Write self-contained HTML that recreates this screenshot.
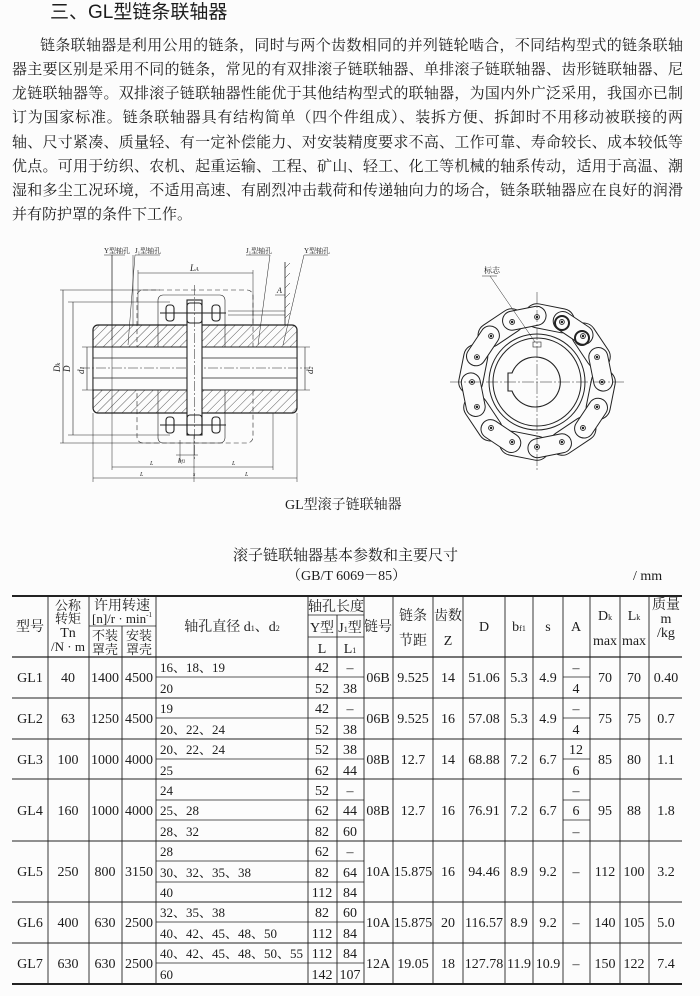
<!DOCTYPE html>
<html><head><meta charset="utf-8">
<style>
html,body{margin:0;padding:0;background:#fcfcfc;}
body{width:700px;height:996px;position:relative;overflow:hidden;color:#1c1c1c;font-family:"Liberation Serif","Noto Serif CJK SC",serif;}
.title{position:absolute;left:50px;top:0px;font-family:"Liberation Sans","Noto Sans CJK SC",sans-serif;font-size:19px;line-height:26px;}
.ln{position:absolute;left:12px;width:671px;font-size:15px;line-height:20px;text-align:justify;text-align-last:justify;}
.ln.first{left:40px;width:643px;}
.ln.last{text-align-last:left;}
svg text{font-family:"Liberation Serif","Noto Serif CJK SC",serif;fill:#1c1c1c;}
</style></head><body>
<div class="title">三、GL型链条联轴器</div>
<div class="ln first" style="top:36px">链条联轴器是利用公用的链条，同时与两个齿数相同的并列链轮啮合，不同结构型式的链条联轴</div>
<div class="ln" style="top:60px">器主要区别是采用不同的链条，常见的有双排滚子链联轴器、单排滚子链联轴器、齿形链联轴器、尼</div>
<div class="ln" style="top:84px">龙链联轴器等。双排滚子链联轴器性能优于其他结构型式的联轴器，为国内外广泛采用，我国亦已制</div>
<div class="ln" style="top:108px">订为国家标准。链条联轴器具有结构简单（四个件组成）、装拆方便、拆卸时不用移动被联接的两</div>
<div class="ln" style="top:133px">轴、尺寸紧凑、质量轻、有一定补偿能力、对安装精度要求不高、工作可靠、寿命较长、成本较低等</div>
<div class="ln" style="top:157px">优点。可用于纺织、农机、起重运输、工程、矿山、轻工、化工等机械的轴系传动，适用于高温、潮</div>
<div class="ln" style="top:181px">湿和多尘工况环境，不适用高速、有剧烈冲击载荷和传递轴向力的场合，链条联轴器应在良好的润滑</div>
<div class="ln last" style="top:205px">并有防护罩的条件下工作。</div>

<svg width="700" height="996" style="position:absolute;left:0;top:0" xmlns="http://www.w3.org/2000/svg">
<defs>
<pattern id="h" width="6" height="6" patternUnits="userSpaceOnUse" patternTransform="rotate(45)">
<line x1="0" y1="0" x2="0" y2="6" stroke="#333" stroke-width="0.8"/></pattern>
</defs>
<g stroke="#222" fill="none" stroke-width="0.9">
<rect x="137" y="290" width="116" height="153" rx="6" stroke-dasharray="5,3" stroke-width="0.6"/>
<rect x="158" y="295" width="67" height="148" rx="5" stroke-width="0.6"/>
<rect x="93" y="325" width="204" height="88" rx="5" fill="url(#h)" stroke-width="1.2"/>
<rect x="93" y="347" width="204" height="43" fill="#fcfcfc" stroke-width="1"/>
<line x1="93" y1="358" x2="297" y2="358" stroke-width="0.7"/>
<line x1="93" y1="378" x2="297" y2="378" stroke-width="0.7"/>
<line x1="80" y1="368" x2="310" y2="368" stroke-dasharray="10,2,2,2" stroke-width="0.5"/>
<rect x="187" y="300" width="15" height="135" fill="#fcfcfc" stroke-width="1.1"/>
<line x1="194.5" y1="285" x2="194.5" y2="460" stroke-dasharray="10,2,2,2" stroke-width="0.5"/>
<g stroke-width="1.1">
<rect x="166" y="305" width="8" height="16" rx="3"/><rect x="187" y="303" width="15" height="20" rx="3"/><rect x="212" y="305" width="8" height="16" rx="3"/>
<line x1="160" y1="313" x2="226" y2="313"/>
<rect x="166" y="417" width="8" height="16" rx="3"/><rect x="187" y="415" width="15" height="20" rx="3"/><rect x="212" y="417" width="8" height="16" rx="3"/>
<line x1="160" y1="425" x2="226" y2="425"/>
</g>
<line x1="228" y1="311" x2="285" y2="311" stroke-width="0.6"/>
<line x1="228" y1="315" x2="285" y2="315" stroke-width="0.6"/>
<g stroke-width="0.5">
<line x1="112" y1="255" x2="112" y2="470"/><line x1="133" y1="255" x2="133" y2="325"/>
<line x1="93" y1="413" x2="93" y2="482"/><line x1="297" y1="413" x2="297" y2="482"/>
<line x1="273" y1="413" x2="273" y2="470"/><line x1="253" y1="270" x2="253" y2="325"/>
<line x1="138" y1="270" x2="138" y2="325"/>
<line x1="60" y1="290" x2="160" y2="290"/><line x1="60" y1="443" x2="160" y2="443"/>
<line x1="68" y1="302" x2="170" y2="302"/><line x1="68" y1="435" x2="170" y2="435"/>
<line x1="82" y1="347" x2="93" y2="347"/><line x1="82" y1="390" x2="93" y2="390"/>
<line x1="297" y1="347" x2="310" y2="347"/><line x1="297" y1="390" x2="310" y2="390"/>
<line x1="194" y1="435" x2="194" y2="482"/><line x1="180" y1="440" x2="180" y2="462"/>
</g>
<g stroke-width="0.6">
<line x1="63" y1="290" x2="63" y2="443"/><line x1="73" y1="302" x2="73" y2="435"/>
<line x1="87" y1="347" x2="87" y2="390"/><line x1="305" y1="347" x2="305" y2="390"/>
<line x1="138" y1="273" x2="253" y2="273"/>
<line x1="112" y1="467" x2="273" y2="467"/><line x1="93" y1="478" x2="297" y2="478"/>
<line x1="176" y1="455" x2="198" y2="455"/>
</g>
<line x1="285" y1="262" x2="285" y2="325" stroke-width="0.8"/>
<g stroke-width="0.5"><line x1="285" y1="268" x2="290" y2="263"/><line x1="285" y1="278" x2="290" y2="273"/><line x1="285" y1="288" x2="290" y2="283"/><line x1="285" y1="298" x2="290" y2="293"/><line x1="285" y1="308" x2="290" y2="303"/><line x1="285" y1="318" x2="290" y2="313"/></g>
<line x1="275" y1="295" x2="285" y2="295" stroke-width="0.5"/>
<g stroke-width="0.5">
<line x1="104" y1="255" x2="125" y2="255"/><line x1="112" y1="255" x2="112" y2="340"/>
<line x1="135" y1="255" x2="160" y2="255"/><line x1="135" y1="255" x2="128" y2="345"/>
<line x1="246" y1="255" x2="270" y2="255"/><line x1="270" y1="255" x2="258" y2="345"/>
<line x1="304" y1="255" x2="328" y2="255"/><line x1="304" y1="255" x2="283" y2="345"/>
</g>
</g>
<g font-size="7">
<text x="104" y="253">Y型轴孔</text><text x="135" y="253">J₁型轴孔</text>
<text x="246" y="253">J₁型轴孔</text><text x="304" y="253">Y型轴孔</text>
</g>
<g font-size="9" font-style="italic">
<text x="190" y="271">L<tspan font-size="6">A</tspan></text>
<text x="277" y="293" font-size="8">A</text>
<text x="60" y="372" transform="rotate(-90 60 372)">D<tspan font-size="6">k</tspan></text>
<text x="70" y="372" transform="rotate(-90 70 372)">D</text>
<text x="84" y="374" transform="rotate(-90 84 374)">d<tspan font-size="6">1</tspan></text>
<text x="313" y="374" transform="rotate(-90 313 374)">d<tspan font-size="6">2</tspan></text>
<text x="178" y="463" font-size="7">b<tspan font-size="5">f1</tspan></text>
<text x="150" y="465" font-size="6">L</text><text x="232" y="465" font-size="6">L</text>
<text x="140" y="476" font-size="6">L</text><text x="193" y="476" font-size="6">s</text><text x="245" y="476" font-size="6">L</text>
</g>

<g stroke="#222" fill="none" stroke-width="1">
<g transform="translate(537 382)">
<g id="lk"><rect x="-25" y="-77" width="50" height="24" rx="12" transform="rotate(11.25)" fill="#fcfcfc"/></g>
<use href="#lk" transform="rotate(45)"/><use href="#lk" transform="rotate(90)"/><use href="#lk" transform="rotate(135)"/><use href="#lk" transform="rotate(180)"/><use href="#lk" transform="rotate(225)"/><use href="#lk" transform="rotate(270)"/><use href="#lk" transform="rotate(315)"/>
<g id="lk2"><rect x="-22" y="-74.5" width="44" height="19" rx="9.5" transform="rotate(33.75)" fill="#fcfcfc"/></g>
<use href="#lk2" transform="rotate(45)"/><use href="#lk2" transform="rotate(90)"/><use href="#lk2" transform="rotate(135)"/><use href="#lk2" transform="rotate(180)"/><use href="#lk2" transform="rotate(225)"/><use href="#lk2" transform="rotate(270)"/><use href="#lk2" transform="rotate(315)"/>
<g id="rl"><circle cx="0" cy="-65" r="2.5" stroke-width="0.8"/><circle cx="0" cy="-65" r="0.8" fill="#222"/></g>
<use href="#rl" transform="rotate(22.5)"/><use href="#rl" transform="rotate(45)"/><use href="#rl" transform="rotate(67.5)"/><use href="#rl" transform="rotate(90)"/><use href="#rl" transform="rotate(112.5)"/><use href="#rl" transform="rotate(135)"/><use href="#rl" transform="rotate(157.5)"/><use href="#rl" transform="rotate(180)"/><use href="#rl" transform="rotate(202.5)"/><use href="#rl" transform="rotate(225)"/><use href="#rl" transform="rotate(247.5)"/><use href="#rl" transform="rotate(270)"/><use href="#rl" transform="rotate(292.5)"/><use href="#rl" transform="rotate(315)"/><use href="#rl" transform="rotate(337.5)"/>
</g>
<circle cx="537" cy="382" r="48" fill="#fcfcfc"/><circle cx="537" cy="382" r="44"/>
<path d="M 512 373 A 25 25 0 1 1 512 391 L 508 391 L 508 373 Z" stroke-width="1.1"/>
<rect x="533" y="342" width="8" height="5" stroke-width="0.6"/>
<line x1="450" y1="382" x2="625" y2="382" stroke-dasharray="12,2,2,2" stroke-width="0.5"/>
<line x1="537" y1="292" x2="537" y2="470" stroke-dasharray="12,2,2,2" stroke-width="0.5"/>
<line x1="490" y1="276" x2="535" y2="342" stroke-width="0.5"/>
<line x1="482" y1="276" x2="497" y2="276" stroke-width="0.5"/>
<circle cx="562" cy="323" r="7" stroke-width="2"/><circle cx="582" cy="338" r="7" stroke-width="2"/>
</g>
<text x="484" y="273" font-size="8">标志</text>

<text x="285" y="509" font-size="14">GL型滚子链联轴器</text>
<text x="233" y="560" font-size="15">滚子链联轴器基本参数和主要尺寸</text>
<text x="287" y="580" font-size="14">（GB/T  6069－85）</text>
<text x="633" y="580" font-size="14">/ mm</text>

<g stroke="#222" stroke-width="0.9" fill="none">
<line x1="12" y1="596" x2="682" y2="596" stroke-width="2"/>
<line x1="12" y1="984" x2="682" y2="984" stroke-width="2"/>
<line x1="12" y1="657" x2="682" y2="657" stroke-width="1.2"/>
<line x1="12" y1="698" x2="682" y2="698"/><line x1="12" y1="739" x2="682" y2="739"/>
<line x1="12" y1="779" x2="682" y2="779"/><line x1="12" y1="841" x2="682" y2="841"/>
<line x1="12" y1="902" x2="682" y2="902"/><line x1="12" y1="943" x2="682" y2="943"/>
<g stroke-width="0.7">
<line x1="156" y1="677" x2="364" y2="677"/><line x1="156" y1="718" x2="364" y2="718"/>
<line x1="156" y1="759" x2="364" y2="759"/><line x1="156" y1="800" x2="364" y2="800"/>
<line x1="156" y1="820" x2="364" y2="820"/><line x1="156" y1="861" x2="364" y2="861"/>
<line x1="156" y1="882" x2="364" y2="882"/><line x1="156" y1="922" x2="364" y2="922"/>
<line x1="156" y1="963" x2="364" y2="963"/>
<line x1="563" y1="677" x2="590" y2="677"/><line x1="563" y1="718" x2="590" y2="718"/>
<line x1="563" y1="759" x2="590" y2="759"/><line x1="563" y1="800" x2="590" y2="800"/>
<line x1="563" y1="820" x2="590" y2="820"/>
<line x1="89" y1="626" x2="156" y2="626"/>
<line x1="308" y1="615" x2="364" y2="615"/><line x1="308" y1="637" x2="364" y2="637"/>
</g>
<line x1="48" y1="596" x2="48" y2="984"/><line x1="89" y1="596" x2="89" y2="984"/>
<line x1="122" y1="626" x2="122" y2="984"/><line x1="156" y1="596" x2="156" y2="984"/>
<line x1="308" y1="596" x2="308" y2="984"/><line x1="337" y1="615" x2="337" y2="984"/>
<line x1="364" y1="596" x2="364" y2="984"/><line x1="393" y1="596" x2="393" y2="984"/>
<line x1="433" y1="596" x2="433" y2="984"/><line x1="463" y1="596" x2="463" y2="984"/>
<line x1="505" y1="596" x2="505" y2="984"/><line x1="533" y1="596" x2="533" y2="984"/>
<line x1="563" y1="596" x2="563" y2="984"/><line x1="590" y1="596" x2="590" y2="984"/>
<line x1="620" y1="596" x2="620" y2="984"/><line x1="649" y1="596" x2="649" y2="984"/>
</g>
<g font-size="14" text-anchor="middle">
<text x="30" y="631">型号</text>
<text x="68" y="610" font-size="13">公称</text><text x="68" y="623" font-size="13">转矩</text><text x="68" y="637">Tn</text><text x="68" y="651" font-size="13">/N · m</text>
<text x="122" y="610">许用转速</text><text x="122" y="623" font-size="13">[n]/r · min<tspan font-size="7" dy="-6">-1</tspan></text>
<text x="105" y="640" font-size="13">不装</text><text x="105" y="654" font-size="13">罩壳</text><text x="139" y="640" font-size="13">安装</text><text x="139" y="654" font-size="13">罩壳</text>
<text x="232" y="631">轴孔直径    d<tspan font-size="8">1</tspan>、d<tspan font-size="8">2</tspan></text>
<text x="336" y="611">轴孔长度</text>
<text x="322" y="632">Y型</text><text x="350" y="632">J<tspan font-size="8">1</tspan>型</text>
<text x="322" y="653">L</text><text x="350" y="653">L<tspan font-size="8">1</tspan></text>
<text x="378" y="631">链号</text>
<text x="413" y="620">链条</text><text x="413" y="645">节距</text>
<text x="448" y="620">齿数</text><text x="448" y="645">Z</text>
<text x="484" y="631">D</text><text x="519" y="631">b<tspan font-size="8">f1</tspan></text>
<text x="548" y="631">s</text><text x="576" y="631">A</text>
<text x="605" y="620">D<tspan font-size="8">k</tspan></text><text x="605" y="645">max</text>
<text x="634" y="620">L<tspan font-size="8">k</tspan></text><text x="634" y="645">max</text>
<text x="666" y="609">质量</text><text x="666" y="623">m</text><text x="666" y="637">/kg</text>
</g>
<g font-size="14" text-anchor="middle">
<text x="30" y="682">GL1</text><text x="68" y="682">40</text><text x="105" y="682">1400</text><text x="139" y="682">4500</text>
<text x="378" y="682">06B</text><text x="413" y="682">9.525</text><text x="448" y="682">14</text><text x="484" y="682">51.06</text><text x="519" y="682">5.3</text><text x="548" y="682">4.9</text><text x="605" y="682">70</text><text x="634" y="682">70</text><text x="666" y="682">0.40</text>
<text x="576" y="672">–</text><text x="576" y="693">4</text>
<text x="30" y="723">GL2</text><text x="68" y="723">63</text><text x="105" y="723">1250</text><text x="139" y="723">4500</text>
<text x="378" y="723">06B</text><text x="413" y="723">9.525</text><text x="448" y="723">16</text><text x="484" y="723">57.08</text><text x="519" y="723">5.3</text><text x="548" y="723">4.9</text><text x="605" y="723">75</text><text x="634" y="723">75</text><text x="666" y="723">0.7</text>
<text x="576" y="713">–</text><text x="576" y="734">4</text>
<text x="30" y="764">GL3</text><text x="68" y="764">100</text><text x="105" y="764">1000</text><text x="139" y="764">4000</text>
<text x="378" y="764">08B</text><text x="413" y="764">12.7</text><text x="448" y="764">14</text><text x="484" y="764">68.88</text><text x="519" y="764">7.2</text><text x="548" y="764">6.7</text><text x="605" y="764">85</text><text x="634" y="764">80</text><text x="666" y="764">1.1</text>
<text x="576" y="754">12</text><text x="576" y="775">6</text>
<text x="30" y="815">GL4</text><text x="68" y="815">160</text><text x="105" y="815">1000</text><text x="139" y="815">4000</text>
<text x="378" y="815">08B</text><text x="413" y="815">12.7</text><text x="448" y="815">16</text><text x="484" y="815">76.91</text><text x="519" y="815">7.2</text><text x="548" y="815">6.7</text><text x="605" y="815">95</text><text x="634" y="815">88</text><text x="666" y="815">1.8</text>
<text x="576" y="795">–</text><text x="576" y="815">6</text><text x="576" y="836">–</text>
<text x="30" y="876">GL5</text><text x="68" y="876">250</text><text x="105" y="876">800</text><text x="139" y="876">3150</text>
<text x="378" y="876">10A</text><text x="413" y="876">15.875</text><text x="448" y="876">16</text><text x="484" y="876">94.46</text><text x="519" y="876">8.9</text><text x="548" y="876">9.2</text><text x="576" y="876">–</text><text x="605" y="876">112</text><text x="634" y="876">100</text><text x="666" y="876">3.2</text>
<text x="30" y="927">GL6</text><text x="68" y="927">400</text><text x="105" y="927">630</text><text x="139" y="927">2500</text>
<text x="378" y="927">10A</text><text x="413" y="927">15.875</text><text x="448" y="927">20</text><text x="484" y="927">116.57</text><text x="519" y="927">8.9</text><text x="548" y="927">9.2</text><text x="576" y="927">–</text><text x="605" y="927">140</text><text x="634" y="927">105</text><text x="666" y="927">5.0</text>
<text x="30" y="968">GL7</text><text x="68" y="968">630</text><text x="105" y="968">630</text><text x="139" y="968">2500</text>
<text x="378" y="968">12A</text><text x="413" y="968">19.05</text><text x="448" y="968">18</text><text x="484" y="968">127.78</text><text x="519" y="968">11.9</text><text x="548" y="968">10.9</text><text x="576" y="968">–</text><text x="605" y="968">150</text><text x="634" y="968">122</text><text x="666" y="968">7.4</text>
<text x="322" y="672">42</text><text x="350" y="672">–</text><text x="322" y="693">52</text><text x="350" y="693">38</text>
<text x="322" y="713">42</text><text x="350" y="713">–</text><text x="322" y="734">52</text><text x="350" y="734">38</text>
<text x="322" y="754">52</text><text x="350" y="754">38</text><text x="322" y="775">62</text><text x="350" y="775">44</text>
<text x="322" y="795">52</text><text x="350" y="795">–</text><text x="322" y="815">62</text><text x="350" y="815">44</text><text x="322" y="836">82</text><text x="350" y="836">60</text>
<text x="322" y="856">62</text><text x="350" y="856">–</text><text x="322" y="877">82</text><text x="350" y="877">64</text><text x="322" y="897">112</text><text x="350" y="897">84</text>
<text x="322" y="917">82</text><text x="350" y="917">60</text><text x="322" y="938">112</text><text x="350" y="938">84</text>
<text x="322" y="958">112</text><text x="350" y="958">84</text><text x="322" y="979">142</text><text x="350" y="979">107</text>
</g>
<g font-size="13">
<text x="160" y="672">16、18、19</text><text x="160" y="693">20</text>
<text x="160" y="713">19</text><text x="160" y="734">20、22、24</text>
<text x="160" y="754">20、22、24</text><text x="160" y="775">25</text>
<text x="160" y="795">24</text><text x="160" y="815">25、28</text><text x="160" y="836">28、32</text>
<text x="160" y="856">28</text><text x="160" y="877">30、32、35、38</text><text x="160" y="897">40</text>
<text x="160" y="917">32、35、38</text><text x="160" y="938">40、42、45、48、50</text>
<text x="160" y="958">40、42、45、48、50、55</text><text x="160" y="979">60</text>
</g>
</svg>
</body></html>
